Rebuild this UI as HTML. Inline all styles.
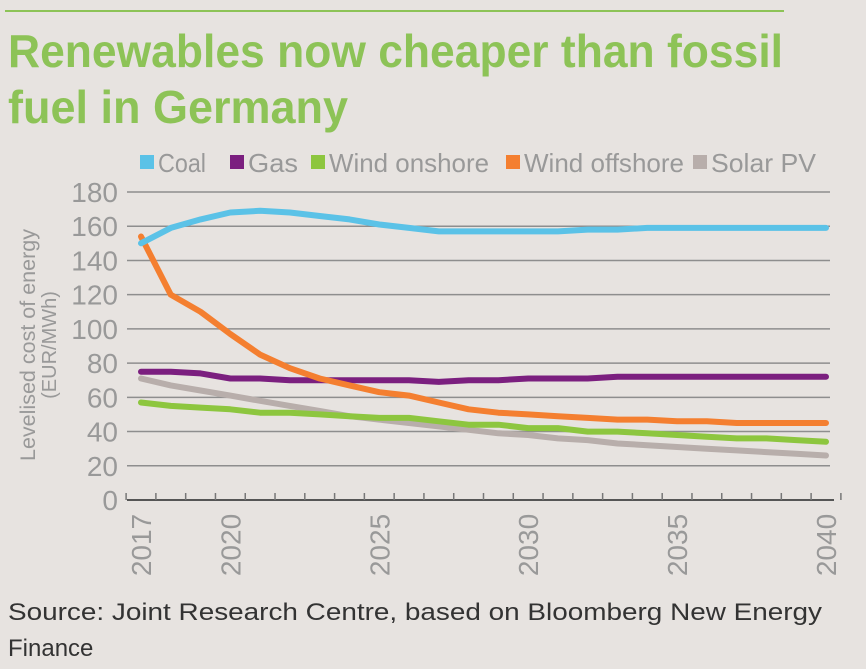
<!DOCTYPE html>
<html><head><meta charset="utf-8"><style>
html,body{margin:0;padding:0;background:#e7e3e0;}
svg{display:block;font-family:"Liberation Sans",sans-serif;}
</style></head><body>
<svg id="chart" width="866" height="669" viewBox="0 0 866 669">
<rect width="866" height="669" fill="#e7e3e0"/>
<line x1="5" y1="11" x2="784" y2="11" stroke="#8dc357" stroke-width="2"/>
<text x="8" y="67" font-size="46" font-weight="bold" fill="#8dc357" textLength="775" lengthAdjust="spacingAndGlyphs">Renewables now cheaper than fossil</text>
<text x="8" y="123" font-size="46" font-weight="bold" fill="#8dc357" textLength="340" lengthAdjust="spacingAndGlyphs">fuel in Germany</text>
<g id="legend"></g>
<g id="grid"></g>
<g id="yticks"></g>
<g id="xaxis"></g>
<g id="series"></g>
<text transform="translate(35,345) rotate(-90)" text-anchor="middle" font-size="21" fill="#999" textLength="232" lengthAdjust="spacingAndGlyphs">Levelised cost of energy</text>
<text transform="translate(56,345) rotate(-90)" text-anchor="middle" font-size="20" fill="#999">(EUR/MWh)</text>
<text x="8" y="620" font-size="24" fill="#333" textLength="814" lengthAdjust="spacingAndGlyphs">Source: Joint Research Centre, based on Bloomberg New Energy</text>
<text x="8" y="656" font-size="24" fill="#333">Finance</text>
</svg>
<script>
const years=[2017,2018,2019,2020,2021,2022,2023,2024,2025,2026,2027,2028,2029,2030,2031,2032,2033,2034,2035,2036,2037,2038,2039,2040];
const yearLabels=[2017,2020,2025,2030,2035,2040];
const yTicks=[0,20,40,60,80,100,120,140,160,180];
const seriesNames=["Coal","Gas","Wind onshore","Wind offshore","Solar PV"];
const seriesColors=["#5bc2e7","#7b1f7f","#8dc63f","#f47f30","#b8aeab"];
const coal=[150,159,164,168,169,168,166,164,161,159,157,157,157,157,157,158,158,159,159,159,159,159,159,159];
const gas=[75,75,74,71,71,70,70,70,70,70,69,70,70,71,71,71,72,72,72,72,72,72,72,72];
const windOnshore=[57,55,54,53,51,51,50,49,48,48,46,44,44,42,42,40,40,39,38,37,36,36,35,34];
const windOffshore=[154,120,110,97,85,77,71,67,63,61,57,53,51,50,49,48,47,47,46,46,45,45,45,45];
const solarPV=[71,67,64,61,58,55,52,49,47,45,43,41,39,38,36,35,33,32,31,30,29,28,27,26];
const allSeries=[coal,gas,windOnshore,windOffshore,solarPV];
const NS="http://www.w3.org/2000/svg";
const x0=141,x1=826,yb=500,yt=192;
const xs=y=>x0+(y-years[0])*(x1-x0)/(years[years.length-1]-years[0]);
const ys=v=>yb-v*(yb-yt)/180;
function mk(tag,attrs,parent){const e=document.createElementNS(NS,tag);for(const k in attrs)e.setAttribute(k,attrs[k]);parent.appendChild(e);return e;}
const grid=document.getElementById('grid'),yt_g=document.getElementById('yticks');
yTicks.forEach(v=>{
 if(v>0){const l=mk('line',{x1:127,x2:830,y1:ys(v),y2:ys(v),stroke:'#8e8e8e','stroke-width':1.5},grid);
 
 }
 const t=mk('text',{x:118,y:ys(v)+10,'text-anchor':'end','font-size':28,fill:'#999'},yt_g);t.textContent=v;
 
 
});
const xa=document.getElementById('xaxis');
const step=(x1-x0)/(years.length-1);
const base=mk('line',{x1:127,x2:834,y1:yb,y2:yb,stroke:'#555','stroke-width':2},xa);


for(let i=0;i<=years.length;i++){const tx=xs(years[0])-step/2+i*step;
 const tk=mk('line',{x1:tx,x2:tx,y1:yb-7,y2:yb,stroke:'#777','stroke-width':1.5},xa);
 
 }
yearLabels.forEach(y=>{const t=mk('text',{transform:`translate(${xs(y)+10},${545}) rotate(-90)`,'text-anchor':'middle','font-size':28,fill:'#999'},xa);t.textContent=y;
 
 });
const sg=document.getElementById('series');
[4,2,1,3,0].forEach(i=>{const d=allSeries[i].map((v,j)=>(j?'L':'M')+xs(years[j]).toFixed(1)+','+ys(v).toFixed(1)).join(' ');
 const p=mk('path',{d:d,fill:'none',stroke:seriesColors[i],'stroke-width':6,'stroke-linejoin':'round','stroke-linecap':'round'},sg);
 
 });
const lg=document.getElementById('legend');
const lx=[140,230,311,506,693],lw=[48,50,160,160,105];
seriesNames.forEach((n,i)=>{
 const r=mk('rect',{x:lx[i],y:155,width:14,height:14,fill:seriesColors[i]},lg);
 
 
 const t=mk('text',{x:lx[i]+18,y:172,'font-size':26,fill:'#999',textLength:lw[i],lengthAdjust:'spacingAndGlyphs'},lg);t.textContent=n;
 
 
});
</script>
</body></html>
